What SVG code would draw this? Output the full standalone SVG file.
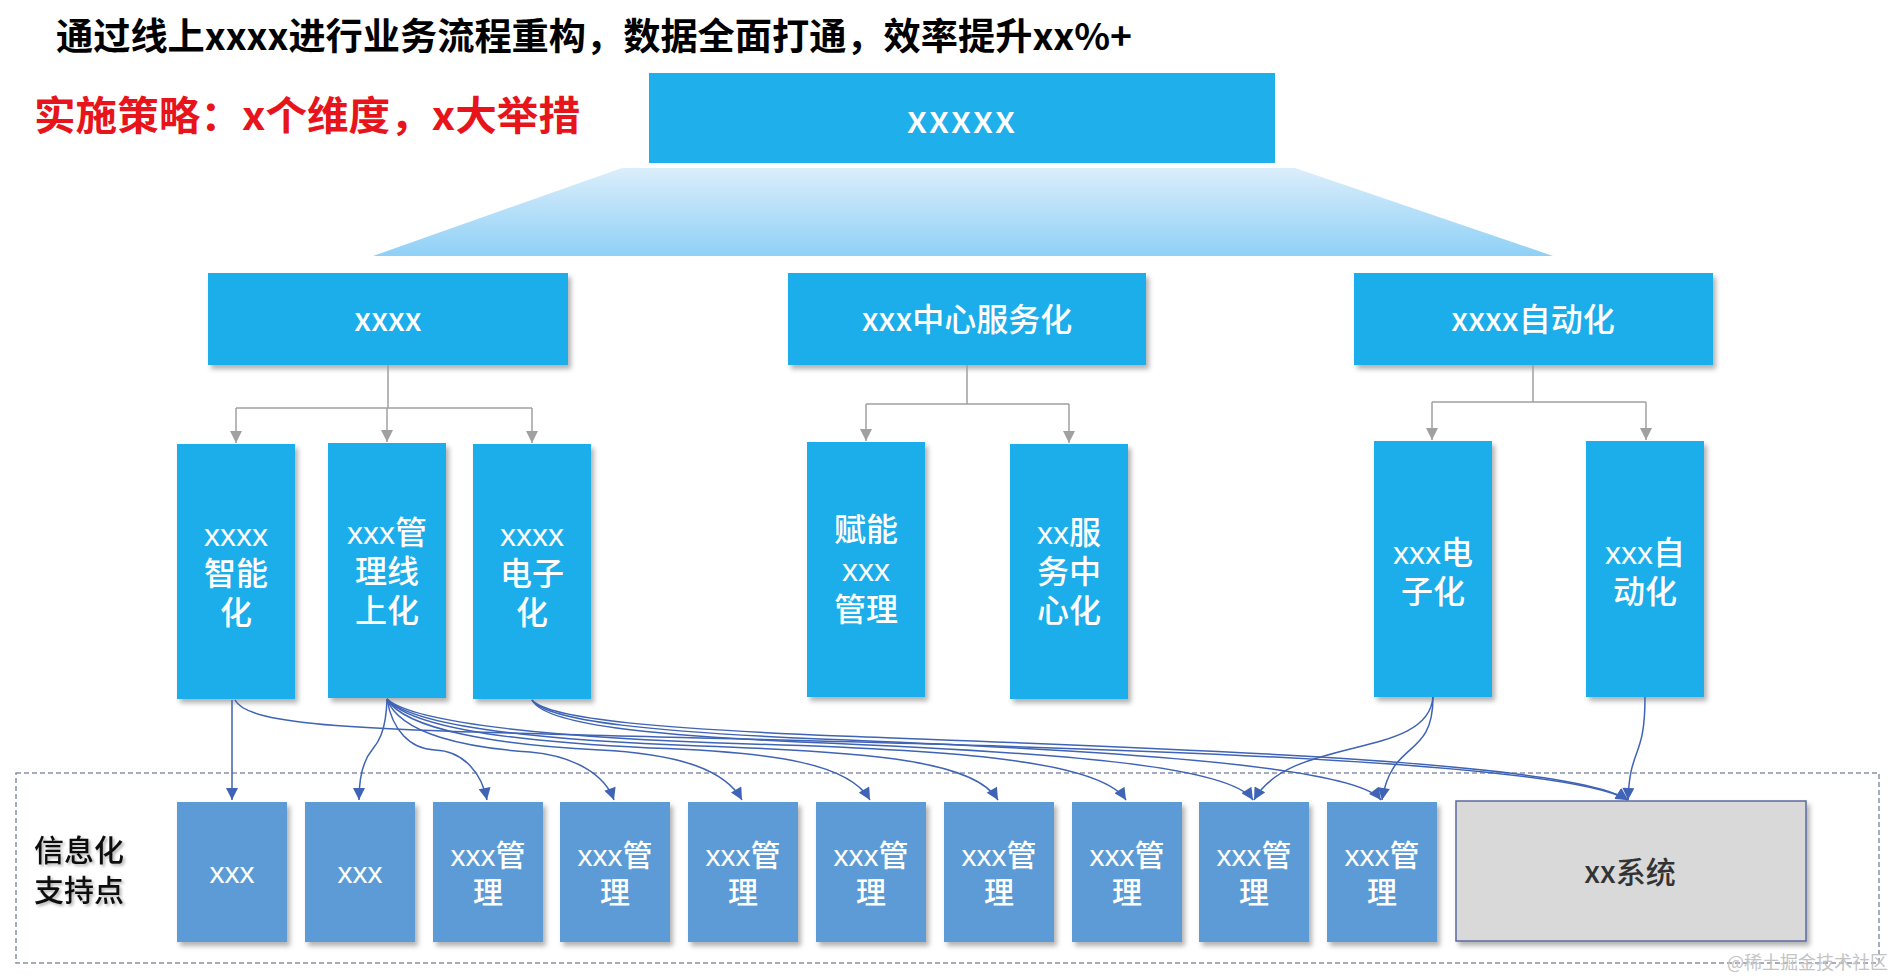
<svg xmlns="http://www.w3.org/2000/svg" width="1896" height="980" viewBox="0 0 1896 980">
<defs>
  <linearGradient id="trap" x1="0" y1="0" x2="0" y2="1">
    <stop offset="0" stop-color="#dbeefb"/>
    <stop offset="1" stop-color="#8fd0f6"/>
  </linearGradient>
  <filter id="sh" x="-10%" y="-10%" width="130%" height="130%">
    <feDropShadow dx="3" dy="4" stdDeviation="2.5" flood-color="#000" flood-opacity="0.3"/>
  </filter>
  <filter id="tsh" x="-10%" y="-10%" width="130%" height="140%">
    <feDropShadow dx="2" dy="2" stdDeviation="1.5" flood-color="#000" flood-opacity="0.3"/>
  </filter>
  <marker id="ga" viewBox="0 0 10 10" refX="10" refY="5" markerUnits="userSpaceOnUse" markerWidth="12" markerHeight="12" orient="auto">
    <path d="M0,0 L10,5 L0,10 z" fill="#a0a0a0"/>
  </marker>
  <marker id="ba" viewBox="0 0 10 10" refX="10" refY="5" markerUnits="userSpaceOnUse" markerWidth="14" markerHeight="12" orient="auto">
    <path d="M0,0 L10,5 L0,10 z" fill="#3f63b5"/>
  </marker>
  <style>
    .t { font-family: "Noto Sans CJK SC", "Noto Sans", sans-serif; }
    .m { font-family: "Liberation Sans", "Noto Sans CJK SC", sans-serif; }
    .lvl { fill: #1fadeb; filter: url(#sh); }
    .sup { fill: #5b9bd5; filter: url(#sh); }
    .wt { fill: #ffffff; font-size: 32px; text-anchor: middle; font-weight: 500; }
    .wb { fill: #ffffff; font-size: 30px; text-anchor: middle; font-weight: 500; }
    .gl { fill: none; stroke: #a0a0a0; stroke-width: 1.5; }
    .bl { fill: none; stroke: #3f63b5; stroke-width: 1.5; marker-end: url(#ba); }
  </style>
</defs>
<rect width="1896" height="980" fill="#ffffff"/>

<g id="title">
  <text class="t" x="56" y="50" font-size="37" font-weight="bold" fill="#000" textLength="1076" lengthAdjust="spacingAndGlyphs">通过线上xxxx进行业务流程重构，数据全面打通，效率提升xx%+</text>
</g>
<g id="strategy">
  <text class="t" x="34" y="130" font-size="40" font-weight="bold" fill="#e8141c" textLength="546" lengthAdjust="spacingAndGlyphs">实施策略：x个维度，x大举措</text>
</g>

<g id="top">
  <rect x="649" y="73" width="626" height="90" fill="#1fb0ec"/>
  <text class="t" x="962" y="133" font-size="38" font-weight="500" fill="#fff" text-anchor="middle" letter-spacing="2">xxxxx</text>
</g>
<g id="trapezoid">
  <polygon points="622,168 1295,168 1553,256 373,256" fill="url(#trap)"/>
</g>

<g id="l2a"><rect class="lvl" x="208" y="273" width="360" height="92"/><text class="t wt" x="388" y="331">xxxx</text></g>
<g id="l2b"><rect class="lvl" x="788" y="273" width="358" height="92"/><text class="t wt" x="967" y="331">xxx中心服务化</text></g>
<g id="l2c"><rect class="lvl" x="1354" y="273" width="359" height="92"/><text class="t wt" x="1533" y="331">xxxx自动化</text></g>

<g id="l3a"><rect class="lvl" x="177" y="444" width="118" height="255"/>
  <text class="m wt" y="546"><tspan x="236">xxxx</tspan><tspan x="236" dy="39">智能</tspan><tspan x="236" dy="39">化</tspan></text></g>
<g id="l3b"><rect class="lvl" x="328" y="443" width="118" height="255"/>
  <text class="m wt" y="544"><tspan x="387">xxx管</tspan><tspan x="387" dy="39">理线</tspan><tspan x="387" dy="39">上化</tspan></text></g>
<g id="l3c"><rect class="lvl" x="473" y="444" width="118" height="255"/>
  <text class="m wt" y="546"><tspan x="532">xxxx</tspan><tspan x="532" dy="39">电子</tspan><tspan x="532" dy="39">化</tspan></text></g>
<g id="l3d"><rect class="lvl" x="807" y="442" width="118" height="255"/>
  <text class="m wt" y="541"><tspan x="866">赋能</tspan><tspan x="866" dy="40">xxx</tspan><tspan x="866" dy="40">管理</tspan></text></g>
<g id="l3e"><rect class="lvl" x="1010" y="444" width="118" height="255"/>
  <text class="m wt" y="544"><tspan x="1069">xx服</tspan><tspan x="1069" dy="39">务中</tspan><tspan x="1069" dy="39">心化</tspan></text></g>
<g id="l3f"><rect class="lvl" x="1374" y="441" width="118" height="256"/>
  <text class="m wt" y="564"><tspan x="1433">xxx电</tspan><tspan x="1433" dy="39">子化</tspan></text></g>
<g id="l3g"><rect class="lvl" x="1586" y="441" width="118" height="256"/>
  <text class="m wt" y="564"><tspan x="1645">xxx自</tspan><tspan x="1645" dy="39">动化</tspan></text></g>

<g id="support">
  <rect x="16" y="773" width="1863" height="190" fill="none" stroke="#8a90aa" stroke-width="1.5" stroke-dasharray="5 3"/>
  <g filter="url(#tsh)">
    <text class="m" y="861" font-size="30" font-weight="500" fill="#111" text-anchor="middle"><tspan x="79">信息化</tspan><tspan x="79" dy="40">支持点</tspan></text>
  </g>
</g>

<g id="s0"><rect class="sup" x="177" y="802" width="110" height="140"/><text class="m wb" x="232" y="883">xxx</text></g>
<g id="s1"><rect class="sup" x="305" y="802" width="110" height="140"/><text class="m wb" x="360" y="883">xxx</text></g>
<g id="s2"><rect class="sup" x="433" y="802" width="110" height="140"/><text class="m wb" y="866"><tspan x="488">xxx管</tspan><tspan x="488" dy="37">理</tspan></text></g>
<g id="s3"><rect class="sup" x="560" y="802" width="110" height="140"/><text class="m wb" y="866"><tspan x="615">xxx管</tspan><tspan x="615" dy="37">理</tspan></text></g>
<g id="s4"><rect class="sup" x="688" y="802" width="110" height="140"/><text class="m wb" y="866"><tspan x="743">xxx管</tspan><tspan x="743" dy="37">理</tspan></text></g>
<g id="s5"><rect class="sup" x="816" y="802" width="110" height="140"/><text class="m wb" y="866"><tspan x="871">xxx管</tspan><tspan x="871" dy="37">理</tspan></text></g>
<g id="s6"><rect class="sup" x="944" y="802" width="110" height="140"/><text class="m wb" y="866"><tspan x="999">xxx管</tspan><tspan x="999" dy="37">理</tspan></text></g>
<g id="s7"><rect class="sup" x="1072" y="802" width="110" height="140"/><text class="m wb" y="866"><tspan x="1127">xxx管</tspan><tspan x="1127" dy="37">理</tspan></text></g>
<g id="s8"><rect class="sup" x="1199" y="802" width="110" height="140"/><text class="m wb" y="866"><tspan x="1254">xxx管</tspan><tspan x="1254" dy="37">理</tspan></text></g>
<g id="s9"><rect class="sup" x="1327" y="802" width="110" height="140"/><text class="m wb" y="866"><tspan x="1382">xxx管</tspan><tspan x="1382" dy="37">理</tspan></text></g>
<g id="sys"><rect x="1456" y="801" width="350" height="140" fill="#d9d9d9" stroke="#5a6a9e" stroke-width="1.5" filter="url(#sh)"/>
  <text class="t" x="1630" y="883" font-size="30" font-weight="500" fill="#333" text-anchor="middle">xx系统</text></g>

<g id="connectors">
  <path class="gl" d="M388,365 V408 M236,408 H532"/>
  <path class="gl" d="M236,408 V443" marker-end="url(#ga)"/>
  <path class="gl" d="M387,408 V442" marker-end="url(#ga)"/>
  <path class="gl" d="M532,408 V443" marker-end="url(#ga)"/>
  <path class="gl" d="M967,365 V404 M866,404 H1069"/>
  <path class="gl" d="M866,404 V441" marker-end="url(#ga)"/>
  <path class="gl" d="M1069,404 V443" marker-end="url(#ga)"/>
  <path class="gl" d="M1533,365 V402 M1432,402 H1646"/>
  <path class="gl" d="M1432,402 V440" marker-end="url(#ga)"/>
  <path class="gl" d="M1646,402 V440" marker-end="url(#ga)"/>

  <path class="bl" d="M232,700 L232,800"/>
  <path class="bl" d="M235,700 C250,730 400,730 700,738 C1100,748 1560,760 1628,800"/>
  <path class="bl" d="M387,699 C386,735 376,745 372,750 C362,762 359,780 359,800"/>
  <path class="bl" d="M387,699 C392,730 410,749 435,750 C465,751 482,775 487,800"/>
  <path class="bl" d="M387,699 C400,735 470,748 530,752 C575,756 605,775 614,800"/>
  <path class="bl" d="M387,699 C405,730 500,745 600,750 C680,754 725,770 742,800"/>
  <path class="bl" d="M387,699 C410,728 520,742 650,748 C780,752 850,765 870,800"/>
  <path class="bl" d="M387,699 C412,726 540,740 700,746 C880,752 975,762 998,800"/>
  <path class="bl" d="M387,699 C415,724 560,738 750,744 C950,750 1100,760 1126,800"/>
  <path class="bl" d="M532,700 C545,725 650,735 800,742 C1050,752 1230,765 1253,800"/>
  <path class="bl" d="M532,700 C547,722 660,732 820,739 C1100,750 1355,765 1381,800"/>
  <path class="bl" d="M532,700 C549,720 670,729 840,736 C1150,748 1570,760 1628,800"/>
  <path class="bl" d="M1433,697 C1428,760 1290,735 1254,800"/>
  <path class="bl" d="M1433,697 C1433,760 1392,738 1382,800"/>
  <path class="bl" d="M1645,697 C1645,760 1630,745 1628,800"/>
</g>

<g id="watermark">
  <text class="t" x="1888" y="969" font-size="18" fill="#c4c4c4" text-anchor="end">@稀土掘金技术社区</text>
</g>
</svg>
